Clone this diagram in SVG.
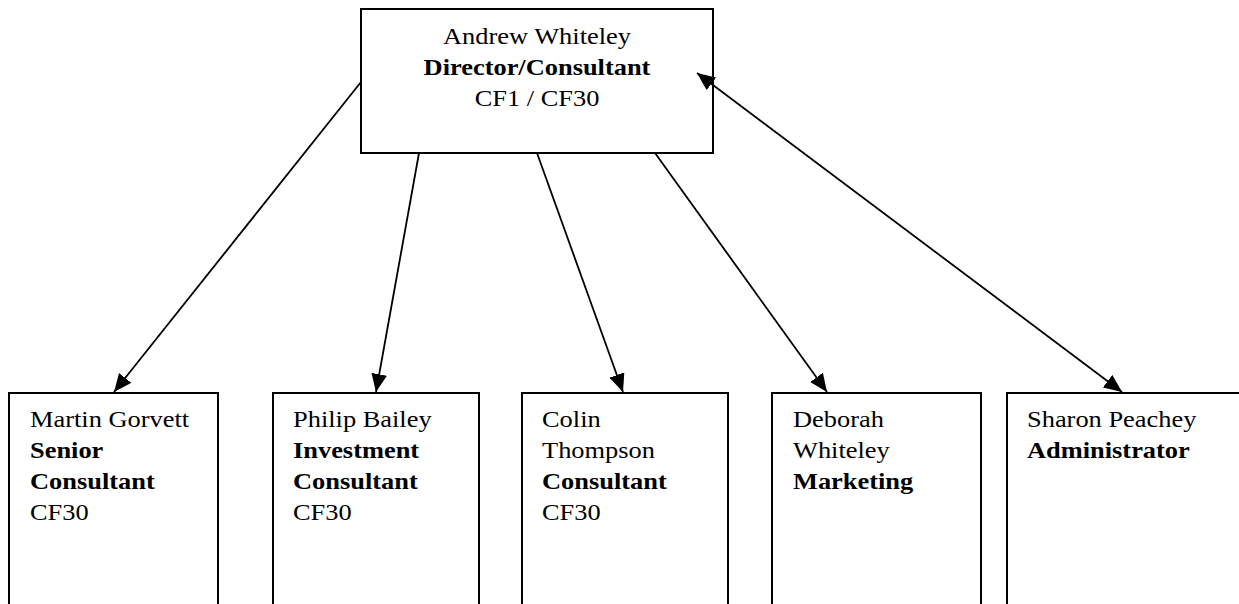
<svg xmlns="http://www.w3.org/2000/svg" width="1239" height="604" viewBox="0 0 1239 604">
<defs>
<style>
.box{fill:#fff;stroke:#000;stroke-width:2}
.t{font-family:"Liberation Serif","Times New Roman",serif;font-size:23.8px;fill:#000}
.b{font-weight:bold}
.c{text-anchor:middle}
.ln{stroke:#000;stroke-width:1.8;fill:none}
</style>
<marker id="ah" markerUnits="userSpaceOnUse" markerWidth="18" markerHeight="16" refX="16" refY="7" orient="auto-start-reverse" viewBox="0 0 16 14">
<path d="M0,0 L16,7 L0,14 z" fill="#000"/>
</marker>
</defs>
<rect width="1239" height="604" fill="#fff"/>
<g id="n-andrew">
<rect class="box" x="361" y="9" width="352" height="144"/>
<text class="t c" transform="translate(537,44) scale(1.11,1)">Andrew Whiteley</text>
<text class="t c b" transform="translate(537,75) scale(1.11,1)">Director/Consultant</text>
<text class="t c" transform="translate(537,106) scale(1.11,1)">CF1 / CF30</text>
</g>
<g id="n-martin">
<rect class="box" x="9" y="393" width="209" height="240"/>
<text class="t" transform="translate(30,427) scale(1.11,1)">Martin Gorvett</text>
<text class="t b" transform="translate(30,458) scale(1.11,1)">Senior</text>
<text class="t b" transform="translate(30,489) scale(1.11,1)">Consultant</text>
<text class="t" transform="translate(30,520) scale(1.11,1)">CF30</text>
</g>
<g id="n-philip">
<rect class="box" x="273" y="393" width="206" height="240"/>
<text class="t" transform="translate(293,427) scale(1.11,1)">Philip Bailey</text>
<text class="t b" transform="translate(293,458) scale(1.11,1)">Investment</text>
<text class="t b" transform="translate(293,489) scale(1.11,1)">Consultant</text>
<text class="t" transform="translate(293,520) scale(1.11,1)">CF30</text>
</g>
<g id="n-colin">
<rect class="box" x="522" y="393" width="206" height="240"/>
<text class="t" transform="translate(542,427) scale(1.11,1)">Colin</text>
<text class="t" transform="translate(542,458) scale(1.11,1)">Thompson</text>
<text class="t b" transform="translate(542,489) scale(1.11,1)">Consultant</text>
<text class="t" transform="translate(542,520) scale(1.11,1)">CF30</text>
</g>
<g id="n-deborah">
<rect class="box" x="772" y="393" width="209" height="240"/>
<text class="t" transform="translate(793,427) scale(1.11,1)">Deborah</text>
<text class="t" transform="translate(793,458) scale(1.11,1)">Whiteley</text>
<text class="t b" transform="translate(793,489) scale(1.11,1)">Marketing</text>
</g>
<g id="n-sharon">
<rect class="box" x="1007" y="393" width="260" height="240"/>
<text class="t" transform="translate(1027,427) scale(1.11,1)">Sharon Peachey</text>
<text class="t b" transform="translate(1027,458) scale(1.11,1)">Administrator</text>
</g>
<g id="connectors">
<line class="ln" x1="361" y1="82" x2="114" y2="392" marker-end="url(#ah)"/>
<line class="ln" x1="419" y1="153" x2="376" y2="392" marker-end="url(#ah)"/>
<line class="ln" x1="537" y1="153" x2="623" y2="392" marker-end="url(#ah)"/>
<line class="ln" x1="655" y1="153" x2="827" y2="392" marker-end="url(#ah)"/>
<line class="ln" x1="697" y1="73" x2="1122" y2="392" marker-start="url(#ah)" marker-end="url(#ah)"/>
</g>
</svg>
